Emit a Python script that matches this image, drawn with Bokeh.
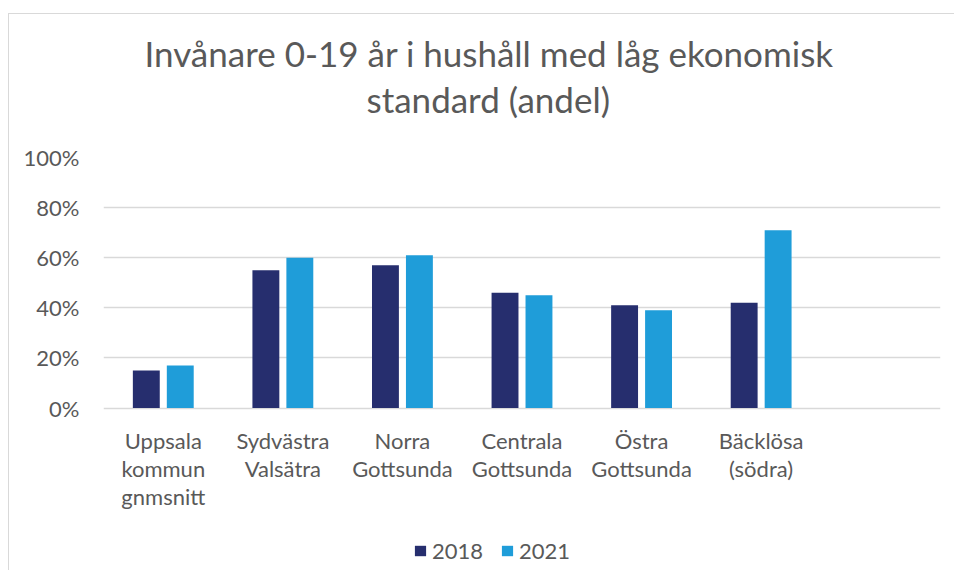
from bokeh.plotting import figure
from bokeh.models import FactorRange, Range1d, FixedTicker, Legend, LegendItem, Title, ColumnDataSource
from bokeh.core.properties import value
from bokeh.transform import dodge
from bokeh.embed import file_html
from bokeh.resources import INLINE

categories = ["Uppsala\nkommun\ngnmsnitt", "Sydvästra\nValsätra", "Norra\nGottsunda",
              "Centrala\nGottsunda", "Östra\nGottsunda", "Bäcklösa\n(södra)"]
values_2018 = [15, 55, 57, 46, 41, 42]
values_2021 = [17, 60, 61, 45, 39, 71]
series_names = ["2018", "2021"]
y_ticks = [0, 20, 40, 60, 80, 100]
y_tick_labels = ["0%", "20%", "40%", "60%", "80%", "100%"]
title_lines = ["Invånare 0-19 år i hushåll med låg ekonomisk", "standard (andel)"]

NAVY = "#262E6E"
LIGHT = "#1F9DD9"
TXT = "#595959"
GRID = "#D9D9D9"
FONT = "Lato"

src = ColumnDataSource(dict(cat=categories, v18=values_2018, v21=values_2021,
                            ly=[-7.4] * len(categories)))

p = figure(width=946, height=557, output_backend="svg", toolbar_location=None,
           x_range=FactorRange(*(categories + [" "]), range_padding=0),
           y_range=Range1d(-65.2, 100),
           min_border_left=94, min_border_right=15, min_border_top=143, min_border_bottom=0,
           margin=(13, 0, 0, 8),
           styles={"border-left": "1px solid #D9D9D9", "border-top": "1px solid #D9D9D9"},
           title=None)
p.outline_line_color = None
p.background_fill_color = "white"
p.border_fill_color = "white"

r1 = p.vbar(x=dodge("cat", -0.142, range=p.x_range), top="v18", width=0.225, source=src,
            fill_color=NAVY, line_color=None)
r2 = p.vbar(x=dodge("cat", 0.142, range=p.x_range), top="v21", width=0.225, source=src,
            fill_color=LIGHT, line_color=None)

# category labels below the zero line
p.text(x="cat", y="ly", text="cat", source=src, text_align="center", text_baseline="top",
       text_font=value(FONT), text_font_size="22px", text_color=TXT, text_line_height=1.05)

p.xaxis.visible = False
p.xgrid.grid_line_color = None
p.ygrid.grid_line_color = GRID
p.ygrid.grid_line_width = 1.5
p.yaxis.ticker = FixedTicker(ticks=y_ticks)
p.ygrid.ticker = FixedTicker(ticks=y_ticks)
p.yaxis.major_label_overrides = {t: l for t, l in zip(y_ticks, y_tick_labels)}

ax = p.yaxis[0]
ax.axis_line_color = None
ax.major_tick_line_color = None
ax.minor_tick_line_color = None
ax.major_label_text_font = FONT
ax.major_label_text_font_size = "22px"
ax.major_label_text_color = TXT
ax.major_label_standoff = 18

legend = Legend(items=[LegendItem(label=series_names[0], renderers=[r1]),
                       LegendItem(label=series_names[1], renderers=[r2])],
                orientation="horizontal", location=(310, 7), padding=8,
                label_text_font=FONT, label_text_font_size="22px", label_text_color=TXT,
                glyph_width=14, glyph_height=13, spacing=17, label_standoff=5,
                border_line_color=None, background_fill_alpha=0)
p.add_layout(legend, "center")

t2 = Title(text=title_lines[1], align="left", offset=263, standoff=76,
           text_font=FONT, text_font_size="35px", text_font_style="normal", text_color=TXT)
t1 = Title(text=title_lines[0], align="left", offset=41, standoff=-72,
           text_font=FONT, text_font_size="35px", text_font_style="normal", text_color=TXT)
p.add_layout(t2, "above")
p.add_layout(t1, "above")

open("out.html", "w").write(file_html(p, INLINE))
